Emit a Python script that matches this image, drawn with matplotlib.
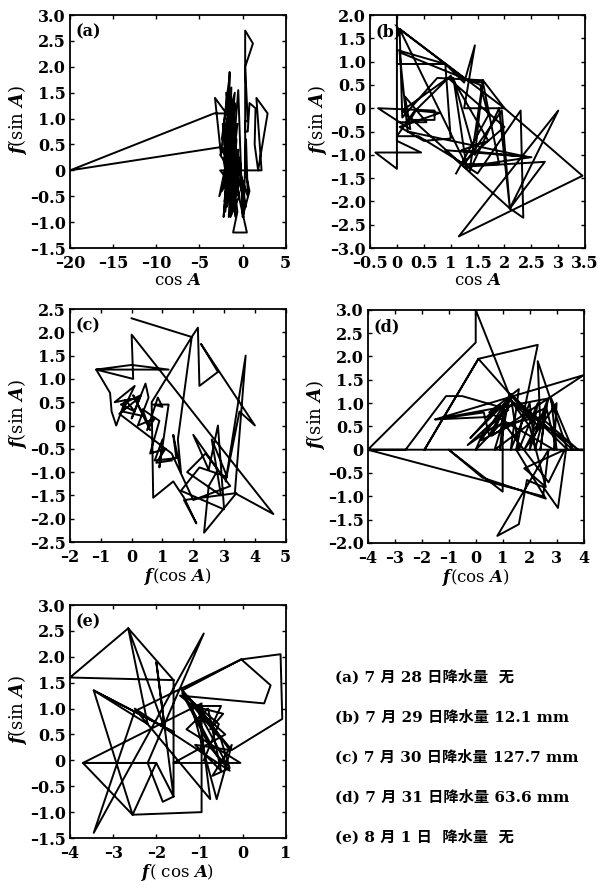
# Phase-space trajectories f(cos A) vs f(sin A) for five days
import matplotlib.pyplot as plt

plt.rcParams['font.family'] = ['DejaVu Serif', 'Noto Sans CJK SC']
plt.rcParams['font.weight'] = 'bold'
plt.rcParams['mathtext.fontset'] = 'custom'
plt.rcParams['mathtext.it'] = 'DejaVu Serif:italic:bold'
plt.rcParams['mathtext.rm'] = 'DejaVu Serif:bold'

# (a) 7/28
a_x = [-1.8, -1.5, -1.9, -1.2, -2.2, -0.9, -2.4, -1.6, -2.0, -1.0, -3.2, -2.5, -2.0, -3.3,
       -20.0, -2.5, -1.3, -1.9, -0.7, -1.4, -0.4, -1.7, -0.6, -1.1, 0.5, -0.3, -1.2, -0.2,
       -1.6, -2.6, 2.2, 1.6, 2.9, 1.8, 1.4, 1.5, 0.8, 0.6, 0.3, 0.3, 0.6, 0.3, 1.2, 0.3,
       0.3, 0.8, 0.0, -0.5, -1.4, -0.8, -1.8, -1.1, -2.1, -1.3, -0.7, -1.5,
       -1.5, -2.0, -1.3, -1.7, -1.1, -2.3, -1.4, -0.8, -1.9, -1.2, -1.6, -0.9, -2.1, -1.0,
       -1.8, -0.6, -1.5, -2.2, -1.3, -0.7, -1.9, -1.2, -0.5, -1.7, -1.0, -2.0, -1.4, -0.9,
       -1.6, -0.4, -1.1, -2.4, -1.3, -0.8, -1.5, -0.3, 0.1, 0.4, 0.6, -0.2, -1.9, -1.4,
       -2.7, -1.2, -2.6, 0.2, -0.9, 0.4, -1.8]
a_y = [0.2, 1.9, -0.6, 1.3, -0.9, 1.5, 0.6, 1.7, -0.8, 0.9, 1.4, 0.3, 1.1, 1.1,
       0.0, 0.45, 0.0, -0.4, 0.6, -0.9, -0.5, 0.7, -0.8, -1.2, -1.2, -0.6, 0.4, 0.1,
       -0.2, 0.0, 0.0, 1.4, 1.1, 0.0, 0.5, 1.2, 1.3, 0.75, 0.75, 0.95, 0.95, 2.0, 2.45, 2.7,
       0.0, -0.4, -0.9, 1.55, -0.3, 0.8, -0.7, 1.2, 0.5, -0.6, 0.3, 1.0,
       1.0, -0.3, 1.6, -0.6, 0.2, 0.9, -0.7, 0.5, 0.4, -0.4, 1.3, -0.2, -0.6, 1.1,
       0.0, 0.9, -0.5, 0.2, 0.8, -0.5, 1.5, -0.8, 0.4, 0.3, -0.6, 0.7, 0.2, 1.3,
       -0.9, -0.2, 0.6, -0.4, -0.1, -0.9, 0.6, 0.2, -0.9, 0.6, -0.5, -0.1, 0.9, 0.1,
       -0.5, 0.7, 0.3, -0.4, 0.5, -0.7, 0.6]

# (b) 7/29, rainfall 12.1 mm
b_x = [0.0, 0.0, -0.4, 0.45, 0.0, 0.0, 0.55, 0.15, 0.25, -0.35, 0.7, 0.7, 0.25, 0.35, 0.8,
       0.05, 0.5, 1.0, 0.9, 0.0, 0.0, 0.9, 1.25, 1.45, 1.25, 2.0, 1.6, 0.75, 0.1, 0.05, 2.0,
       3.45, 1.15, 3.0, 2.1, 0.9, 2.5, 1.3, 2.75, 2.1, 2.35, 2.3, 1.5, 1.3, 0.05, 1.3, 1.6,
       1.9, 1.2, 2.0, 0.95, 0.1, 1.3,
       1.05, 1.45, 1.6, 1.35, 1.9, 2.1, 1.95, 1.25, 0.4, 0.0, 0.3, 1.0, 1.7, 1.2, 2.45,
       0.2, 0.05, 1.55, 1.7, 1.1]
b_y = [2.0, -1.3, -0.95, -0.95, -0.7, -0.3, -0.3, 0.25, -0.45, 0.0, -0.05, -0.25, -0.25, -0.05, -0.1,
       -0.4, -0.7, -0.65, 0.95, 0.95, 1.25, 0.95, 0.55, 1.35, 0.0, 0.0, 0.6, 0.65, -0.2, 1.7, 0.0,
       -1.45, -2.75, -0.05, -2.15, -0.9, -1.05, -1.25, -1.15, -2.15, -2.35, -0.05, -1.4, -1.25, 1.7, 0.6, 0.55,
       -1.2, -1.2, -0.4, 0.65, -0.05, -1.3,
       0.65, -1.0, 0.6, -1.35, 0.0, -2.15, -0.05, -1.2, -0.6, -0.6, -0.1, 0.7, -0.7, -0.9, -1.05,
       -0.5, 1.2, 0.5, -0.15, -1.4]

# (c) 7/30, rainfall 127.7 mm
c_x = [0.0, 1.95, 2.15, 2.2, 2.8, 2.25, 4.0, 3.5, 3.05, 3.7, 3.35, 4.6, 0.0, 0.05, -1.15,
       1.2, 0.0, -1.15, -0.7, -0.65, -0.5, -0.2, 0.1, -0.35, 0.3, 0.0, 0.45, 0.55, 0.2, 0.75,
       0.5, 0.85, 1.0, 0.7, 1.2, 0.9, 1.0, 0.75, 1.45, 1.35, 1.6, 1.5, 1.95, 0.65, 0.7,
       1.35, 1.7, 2.1, 1.7, 3.4, 2.35, 2.5, 2.8, 2.0, 2.5, 2.8, 3.0, 1.6, 2.2, 3.1, 2.6,
       2.9, 1.8, 2.4, 3.2, 2.0, 1.3, -0.4, 0.25, -0.55, 0.1, -0.3, 0.4, 0.05, 0.6, 0.35,
       0.9, 0.6, 1.1, 0.8, 1.3]
c_y = [2.3, 1.9, 2.1, 0.85, 1.15, 1.75, 0.0, 0.3, -1.2, 1.5, -1.45, -1.9, 1.95, 1.0, 1.2,
       1.2, 1.3, 1.2, 0.7, 0.3, 0.0, 0.55, 0.3, 0.45, 0.65, 0.15, 0.9, 0.6, 0.0, 0.15,
       -0.1, 0.6, 0.4, 0.45, 0.45, -0.9, -0.3, -0.75, -0.7, -0.2, -1.0, -0.3, 1.9, 0.5, -1.55,
       -1.2, -1.55, -2.1, -1.6, -1.45, -2.3, -1.3, -0.95, -0.2, -0.95, 0.0, -1.8, -1.4, -0.9, -1.1, -0.3,
       -1.5, -1.0, -0.6, -1.3, -1.6, -0.6, 0.25, 0.6, 0.5, 0.85, 0.3, 0.2, 0.65, -0.1, 0.35,
       0.1, -0.6, -0.5, -0.8, -0.75]

# (d) 7/31, rainfall 63.6 mm
d_x = [1.3, 0.0, 0.0, -4.0, 4.0, 3.35, 3.05, 2.5, 1.9, 1.6, 0.8, 2.7, 2.5, -4.0, -2.6, -1.1,
       -0.5, 1.0, 1.0, -1.0, 0.25, 2.6, 1.5, 2.3, 0.1, -1.9, 0.1, 2.4, 2.3, 3.4, 1.3, 0.6,
       4.0, -1.5, 2.7, 2.2, 2.0, 1.3, 1.6, 0.5, 2.9, 3.0, 1.8, 2.6, 0.2, 1.2, 3.8, 2.4,
       0.7, -0.3, 1.4, 2.1,
       0.7, 1.3, 1.6, 2.3, 2.0, 2.65, 2.4, 2.6, 3.0, 2.8, 3.6, 1.25, 0.9, 1.05, 0.5, 0.3,
       -1.5, 0.4, 0.9, -0.2, 1.25, 2.0, 2.6, 1.8, 3.3, 2.7, 1.0, 0.0, 0.3, 1.2]
d_y = [1.1, 3.0, 2.3, 0.0, 0.0, 0.0, -1.25, -0.8, -0.65, -1.6, -1.85, 0.0, -1.0, 0.0, 0.0, 1.15,
       1.15, 0.9, -0.9, 0.0, -0.6, -1.05, 0.0, 2.25, 1.95, 0.0, 1.95, 0.45, 1.9, 0.0, 1.2, 0.3,
       1.6, 0.65, 1.1, 0.0, 1.0, 0.0, 1.3, 0.8, 0.0, 1.0, 0.0, 0.9, 0.2, 1.1, 0.0, 0.7,
       0.5, 0.1, 1.0, 0.6,
       0.0, 1.15, 0.0, 1.0, 0.0, 1.05, 0.0, 0.95, 0.0, 1.1, 0.0, 1.2, 0.0, 0.9, 0.3, 0.8,
       0.65, 0.7, 0.95, 0.25, 1.1, 0.5, -0.8, -0.4, 0.0, -0.7, 0.6, 0.0, 0.4, 0.85]

# (e) 8/1
e_x = [-1.6, -4.0, -2.65, -1.6, -1.6, -2.0, -1.8, -2.65, -2.2, -3.45, -1.6, -3.45, -2.55, -0.95,
       -0.95, -3.7, -2.55, -2.0, -3.7, -2.0, -1.6, -1.85, -2.2, -0.9, -3.45, -2.5, -0.03, 0.88,
       0.92, -0.25, -1.4, -0.03, 0.65, 0.5, -1.45, -1.15, -0.5, -0.75, -0.45, -1.15, -0.5, -0.3,
       -0.7, -0.25, -0.6, -1.2, -0.4, -1.6, -0.05, -1.3, -0.8, -0.5, -1.1, -0.3, -0.9, -1.4,
       -0.6, -0.35, -1.0, -0.75, -2.5, -0.3, -0.75, -1.4, -0.55, -0.9]
e_y = [1.55, 1.6, 2.55, 1.55, -0.7, 1.9, 0.6, 2.55, 0.7, 1.35, 0.55, 1.35, -1.05, -1.0,
       1.1, -0.05, -1.05, -0.05, -0.05, -0.05, -0.7, -0.8, -0.05, 2.45, -1.4, 0.95, 1.95, 2.05,
       0.8, 0.2, 1.35, 1.95, 1.45, 1.1, 1.25, 1.05, 1.05, 0.6, 0.9, 1.05, 0.4, -0.15,
       -0.3, 0.3, -0.75, 1.1, 0.5, -0.05, -0.05, 0.6, 1.0, -0.2, 0.3, 0.2, 0.9, 1.35,
       0.1, -0.1, 0.9, -0.75, 1.0, -0.2, 0.25, 1.3, 0.7, 0.0]

legend_lines = ['(a) 7 月 28 日降水量  无',
                '(b) 7 月 29 日降水量 12.1 mm',
                '(c) 7 月 30 日降水量 127.7 mm',
                '(d) 7 月 31 日降水量 63.6 mm',
                '(e) 8 月 1 日  降水量  无']

fig = plt.figure(figsize=(6.06, 8.90), dpi=100)

panels = [
    ('(a)', a_x, a_y, [0.1155, 0.7213, 0.356, 0.2618], (-20, 5), range(-20, 6, 5), (-1.5, 3.0),
     r'cos $A$', [-1.5, -1.0, -0.5, 0, 0.5, 1.0, 1.5, 2.0, 2.5, 3.0]),
    ('(b)', b_x, b_y, [0.6106, 0.7213, 0.355, 0.2618], (-0.5, 3.5),
     [-0.5, 0, 0.5, 1, 1.5, 2, 2.5, 3, 3.5], (-3.0, 2.0), r'cos $A$',
     [-3.0, -2.5, -2.0, -1.5, -1.0, -0.5, 0, 0.5, 1.0, 1.5, 2.0]),
    ('(c)', c_x, c_y, [0.1155, 0.391, 0.356, 0.2618], (-2, 5), range(-2, 6), (-2.5, 2.5),
     r'$f$(cos $A$)', [-2.5, -2.0, -1.5, -1.0, -0.5, 0, 0.5, 1.0, 1.5, 2.0, 2.5]),
    ('(d)', d_x, d_y, [0.607, 0.39, 0.356, 0.2618], (-4, 4), range(-4, 5), (-2.0, 3.0),
     r'$f$(cos $A$)', [-2.0, -1.5, -1.0, -0.5, 0, 0.5, 1.0, 1.5, 2.0, 2.5, 3.0]),
    ('(e)', e_x, e_y, [0.1155, 0.0584, 0.356, 0.2618], (-4, 1), range(-4, 2), (-1.5, 3.0),
     r'$f$( cos $A$)', [-1.5, -1.0, -0.5, 0, 0.5, 1.0, 1.5, 2.0, 2.5, 3.0]),
]

DASH = '\u2013'


def fmt(v):
    if v == 0:
        return '0'
    if float(v).is_integer() and not isinstance(v, float):
        return DASH + '%d' % abs(v) if v < 0 else '%d' % v
    s = '%.1f' % abs(v)
    return DASH + s if v < 0 else s


for tag, xs, ys, pos, xlim, xt, ylim, xlab, yt in panels:
    ax = fig.add_axes(pos)
    ax.plot(xs, ys, color='black', lw=1.4)
    ax.set_xlim(xlim)
    ax.set_ylim(ylim)
    ax.set_xticks(list(xt))
    ax.set_xticklabels([fmt(v) for v in xt])
    ax.set_yticks(yt)
    ax.set_yticklabels([fmt(v) for v in yt])
    ax.tick_params(direction='in', top=True, right=True, length=3, width=1,
                   labelsize=11.5)
    ax.tick_params(axis='x', pad=5)
    ax.tick_params(axis='y', pad=3)
    for s in ax.spines.values():
        s.set_linewidth(1.3)
    ax.set_xlabel(xlab, fontsize=12, labelpad=0)
    ax.set_ylabel(r'$f$(sin $A$)', fontsize=13)
    ax.yaxis.set_label_coords(-0.19, 0.55)
    ax.text(0.025, 0.965, tag, transform=ax.transAxes, fontsize=11.5,
            fontweight='bold', va='top', ha='left')

for i, line in enumerate(legend_lines):
    fig.text(335 / 606, 1 - (677 + 40 * i) / 890, line, fontsize=11,
             fontweight='bold', va='center', ha='left')

fig.savefig('out.png', dpi=100)
